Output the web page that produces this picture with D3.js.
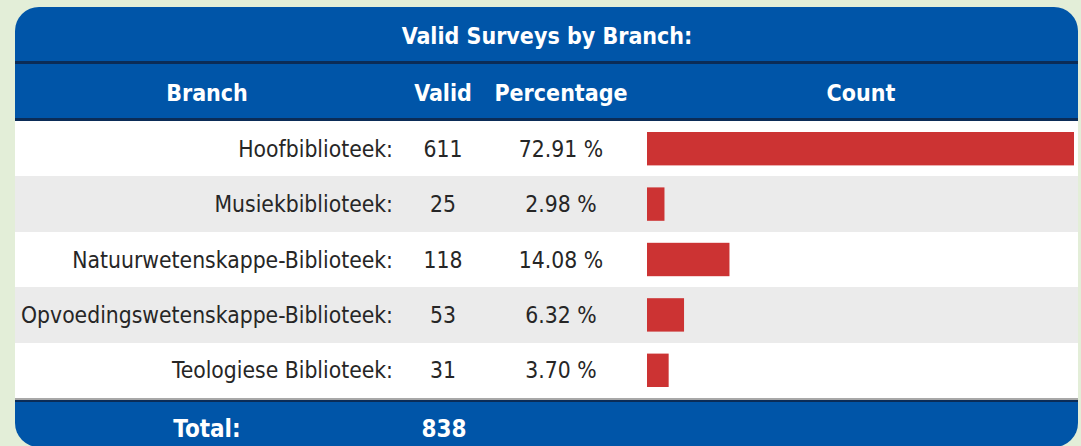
<!DOCTYPE html>
<html>
<head>
<meta charset="utf-8">
<script src="https://cdn.jsdelivr.net/npm/d3@7"></script>
<style>
  html, body { margin: 0; padding: 0; background: #e3eed8; }
  svg { display: block; }
  text { font-family: "DejaVu Sans Condensed", "DejaVu Sans", sans-serif; font-stretch: condensed; }
</style>
</head>
<body>
<svg id="chart"></svg>
<script>
// data
const branches = ["Hoofbiblioteek:", "Musiekbiblioteek:", "Natuurwetenskappe-Biblioteek:", "Opvoedingswetenskappe-Biblioteek:", "Teologiese Biblioteek:"]
const valid = [611, 25, 118, 53, 31]
const percentages = ["72.91 %", "2.98 %", "14.08 %", "6.32 %", "3.70 %"]
const headers = ["Branch", "Valid", "Percentage", "Count"]
const title = "Valid Surveys by Branch:"
const totalLabel = "Total:"
const total = 838

const width = 1081
const height = 446
const blue = "#0055a8"
const dark = "#0b2c57"

const svg = d3.select("#chart").attr("width", width).attr("height", height)

// panel with rounded corners
svg.append("clipPath").attr("id", "panel")
    .append("rect")
    .attr("x", 15).attr("y", 7)
    .attr("width", 1063).attr("height", 440)
    .attr("rx", 24)

const g = svg.append("g").attr("clip-path", "url(#panel)")

g.append("rect").attr("x", 0).attr("y", 0).attr("width", width).attr("height", height).attr("fill", blue)

const rows = branches.map((b, i) => ({ name: b, valid: valid[i], pct: percentages[i], i }))

const y = d3.scaleBand()
    .domain(branches)
    .range([121, 398])

const x = d3.scaleLinear()
    .domain([0, d3.max(valid)])
    .range([647, 1074])

// column centers
const col = { branch: 207, valid: 443, pct: 561, count: 861 }

// row backgrounds
g.append("g")
    .attr("shape-rendering", "crispEdges")
    .selectAll("rect")
    .data(rows)
    .join("rect")
    .attr("x", 0)
    .attr("y", d => y(d.name))
    .attr("width", width)
    .attr("height", y.bandwidth() + 0.5)
    .attr("fill", d => d.i % 2 ? "#ebebeb" : "#ffffff")

// separator lines
const seps = [
    { y: 61, h: 3, c: dark },
    { y: 118, h: 3, c: dark },
    { y: 398, h: 2, c: "#a8a8a8" },
    { y: 400, h: 2, c: dark },
]
g.append("g")
    .attr("shape-rendering", "crispEdges")
    .selectAll("rect")
    .data(seps)
    .join("rect")
    .attr("x", 0)
    .attr("y", d => d.y)
    .attr("width", width)
    .attr("height", d => d.h)
    .attr("fill", d => d.c)

// title
g.append("text")
    .attr("x", 547).attr("y", 36)
    .attr("text-anchor", "middle")
    .attr("dominant-baseline", "central")
    .attr("fill", "white")
    .attr("font-weight", "bold")
    .attr("font-size", 23)
    .text(title)

// headers
g.append("g")
    .selectAll("text")
    .data(headers)
    .join("text")
    .attr("x", (d, i) => [col.branch, col.valid, col.pct, col.count][i])
    .attr("y", 93)
    .attr("text-anchor", "middle")
    .attr("dominant-baseline", "central")
    .attr("fill", "white")
    .attr("font-weight", "bold")
    .attr("font-size", 23)
    .text(d => d)

// bars
g.append("g")
    .attr("fill", "#cc3333")
    .selectAll("rect")
    .data(rows)
    .join("rect")
    .attr("x", x(0))
    .attr("y", d => y(d.name) + 11)
    .attr("width", d => x(d.valid) - x(0))
    .attr("height", y.bandwidth() - 22)

// row text
const rowText = g.append("g")
    .attr("fill", "#262626")
    .attr("font-size", 22.7)
    .attr("dominant-baseline", "central")

rowText.selectAll("text.name")
    .data(rows)
    .join("text")
    .attr("class", "name")
    .attr("x", 393)
    .attr("y", d => y(d.name) + y.bandwidth() / 2)
    .attr("text-anchor", "end")
    .text(d => d.name)

rowText.selectAll("text.valid")
    .data(rows)
    .join("text")
    .attr("class", "valid")
    .attr("x", col.valid)
    .attr("y", d => y(d.name) + y.bandwidth() / 2)
    .attr("text-anchor", "middle")
    .text(d => d.valid)

rowText.selectAll("text.pct")
    .data(rows)
    .join("text")
    .attr("class", "pct")
    .attr("x", col.pct)
    .attr("y", d => y(d.name) + y.bandwidth() / 2)
    .attr("text-anchor", "middle")
    .text(d => d.pct)

// footer
const foot = g.append("g")
    .attr("fill", "white")
    .attr("font-weight", "bold")
    .attr("font-size", 24)
    .attr("text-anchor", "middle")
    .attr("dominant-baseline", "central")
foot.append("text").attr("x", col.branch).attr("y", 429).text(totalLabel)
foot.append("text").attr("x", col.valid + 1).attr("y", 429).text(total)
</script>
</body>
</html>
